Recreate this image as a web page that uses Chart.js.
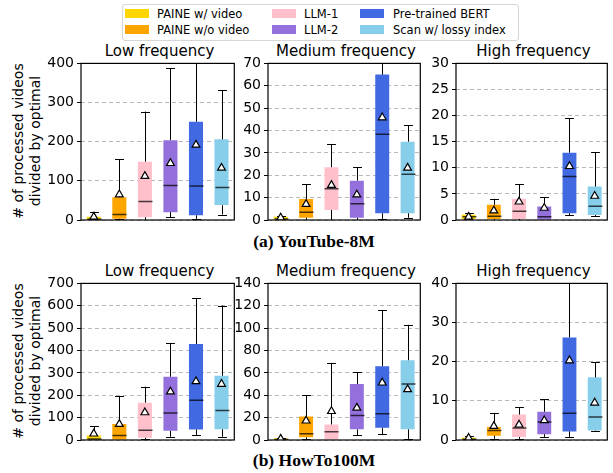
<!DOCTYPE html>
<html>
<head>
<title>Processed videos divided by optimal</title>
<script src="https://cdn.jsdelivr.net/npm/chart.js"></script>
<style>
    body { margin: 0; background: #fff; font-family: "DejaVu Sans", sans-serif; }
    #wrap { position: relative; width: 613px; height: 473px; overflow: hidden; }
    #wrap canvas { position: absolute; }
    #legend { position: absolute; left: 122px; top: 4px; width: 395px; height: 35px;
              border: 1px solid #d6d6d6; border-radius: 3px; }
    .sw { position: absolute; width: 24px; height: 9px; }
    .lt { position: absolute; font-size: 11.5px; line-height: 14px; color: #000; white-space: nowrap; }
    .ylab { position: absolute; width: 220px; text-align: center; font-size: 14px; line-height: 16px;
            transform: rotate(-90deg); white-space: nowrap; }
    .ptitle { position: absolute; width: 200px; text-align: center; font-size: 15px; line-height: 18px;
              white-space: nowrap; }
    .cap { position: absolute; width: 300px; text-align: center; font-family: "Liberation Serif", serif;
           font-weight: bold; font-size: 17.5px; line-height: 20px; }
</style>
</head>
<body>
<div id="wrap">
    <div id="legend"></div>
</div>

<script>
// methods and colours
var methods = ['PAINE w/ video', 'PAINE w/o video', 'LLM-1', 'LLM-2', 'Pre-trained BERT', 'Scan w/ lossy index'];
var colors = ['#FFD700', '#FFA500', '#FFC0CB', '#9370DB', '#4169E1', '#87CEEB'];

// (a) YouTube-8M, low frequency
var ytLowMin  = [0, 2, 0, 7, 3, 14];
var ytLowQ1   = [0, 3, 7, 20, 12, 38];
var ytLowMed  = [2, 14, 47, 88, 87, 83];
var ytLowQ3   = [8, 58, 149, 204, 251, 206];
var ytLowMax  = [21, 155, 277, 387, 520, 332];
var ytLowMean = [8, 65, 112, 145, 192, 133];

// (a) YouTube-8M, medium frequency
var ytMedMin  = [0, 0, 0, 0, 0.5, 1];
var ytMedQ1   = [0, 1, 4.5, 1, 3, 3];
var ytMedMed  = [0.5, 3.5, 14, 7.3, 38.3, 20.4];
var ytMedQ3   = [1.5, 9.4, 23.6, 17.6, 65, 35];
var ytMedMax  = [2, 16, 34, 23.5, 85, 42.4];
var ytMedMean = [1, 7.1, 15.6, 11.3, 45.8, 23.3];

// (a) YouTube-8M, high frequency
var ytHighMin  = [0, 0, 0, 0, 0.9, 0.7];
var ytHighQ1   = [0.2, 0.2, 0.2, 0, 1.3, 0.95];
var ytHighMed  = [0.6, 0.7, 1.7, 0.6, 8.35, 2.65];
var ytHighQ3   = [1, 2.9, 4.05, 2.6, 12.9, 6.4];
var ytHighMax  = [1.3, 4.05, 6.9, 4.4, 19.5, 13];
var ytHighMean = [0.6, 1.8, 3.5, 2.3, 10.3, 4.6];

// (b) HowTo100M, low frequency
var htLowMin  = [0, 0, 3, 15, 22, 15];
var htLowQ1   = [0, 0, 10, 41, 47, 48];
var htLowMed  = [5, 20, 44, 121, 178, 132];
var htLowQ3   = [20, 71, 167, 283, 429, 287];
var htLowMax  = [62, 195, 238, 434, 633, 601];
var htLowMean = [28, 71, 123, 216, 262, 250];

// (b) HowTo100M, medium frequency
var htMedMin  = [0, 0.5, 0, 4.4, 5.3, 1];
var htMedQ1   = [0, 2.4, 0, 9.5, 11, 9.5];
var htMedMed  = [0.5, 5.6, 7.4, 21.9, 23.4, 50];
var htMedQ3   = [1.5, 21, 13.9, 50, 66, 71.3];
var htMedMax  = [2, 40, 69, 60.4, 116.3, 103];
var htMedMean = [1, 17.2, 25.7, 28.7, 51.2, 45.3];

// (b) HowTo100M, high frequency
var htHighMin  = [0, 0.3, 0.3, 0.8, 0.8, 2.2];
var htHighQ1   = [0, 1.1, 0.76, 1.5, 2.2, 2.4];
var htHighMed  = [0.2, 2.4, 3.04, 4.6, 6.85, 5.9];
var htHighQ3   = [0.6, 3.3, 6.5, 7.2, 26.2, 16];
var htHighMax  = [0.9, 6.85, 8.4, 10.4, 55, 19.8];
var htHighMean = [0.5, 3.55, 3.9, 5, 20.3, 9.5];

var titles = ['Low frequency', 'Medium frequency', 'High frequency'];
var yMax = [[400, 70, 30], [700, 140, 40]];
var yStep = [[50, 10, 5], [100, 20, 5]];
var captions = ['(a) YouTube-8M', '(b) HowTo100M'];
var yTitle = ['# of processed videos', 'divided by optimal'];

var stats = [
    [[ytLowMin, ytLowQ1, ytLowMed, ytLowQ3, ytLowMax, ytLowMean],
     [ytMedMin, ytMedQ1, ytMedMed, ytMedQ3, ytMedMax, ytMedMean],
     [ytHighMin, ytHighQ1, ytHighMed, ytHighQ3, ytHighMax, ytHighMean]],
    [[htLowMin, htLowQ1, htLowMed, htLowQ3, htLowMax, htLowMean],
     [htMedMin, htMedQ1, htMedMed, htMedQ3, htMedMax, htMedMean],
     [htHighMin, htHighQ1, htHighMed, htHighQ3, htHighMax, htHighMean]]
];

// layout
var plotLeft = [81, 268, 456];
var plotWidth = [157, 156, 155];
var plotTop = [62, 282];
var plotHeight = 158;
var axisW = 40, topH = 10, bottomH = 12, padR = 2;

var wrap = document.getElementById('wrap');

function addDiv(cls, text, left, top) {
    var d = document.createElement('div');
    d.className = cls;
    d.textContent = text;
    d.style.left = left + 'px';
    d.style.top = top + 'px';
    return d;
}

// legend
var legend = document.getElementById('legend');
var swX = [2, 149, 237], txX = [34, 181, 270], rowY = [9, 25];
methods.forEach(function (m, i) {
    var col = Math.floor(i / 2), row = i % 2;
    var s = addDiv('sw', '', swX[col], rowY[row] - 5);
    s.style.background = colors[i];
    legend.appendChild(s);
    legend.appendChild(addDiv('lt', m, txX[col], rowY[row] - 7));
});

// y titles, panel titles and captions
[0, 1].forEach(function (r) {
    var cy = plotTop[r] + plotHeight / 2;
    [18, 35].forEach(function (cx, k) {
        wrap.appendChild(addDiv('ylab', yTitle[k], cx - 110, cy - 8));
    });
    titles.forEach(function (t, c) {
        wrap.appendChild(addDiv('ptitle', t, plotLeft[c] + plotWidth[c] / 2 - 100, plotTop[r] - 20));
    });
    wrap.appendChild(addDiv('cap', captions[r], 314 - 150, r === 0 ? 231 : 450));
});

var boxExtras = {
    id: 'boxExtras',
    afterDatasetDraw: function (chart, args, opts) {
        if (args.index !== 0) return;
        var x = chart.scales.x, y = chart.scales.y, ctx = chart.ctx, a = chart.chartArea;
        var bars = chart.getDatasetMeta(0).data;
        var cap = x.width / methods.length * 0.35;
        ctx.save();
        ctx.beginPath();
        ctx.rect(a.left, a.top, a.right - a.left, a.bottom - a.top);
        ctx.clip();
        for (var i = 0; i < methods.length; i++) {
            var cx = Math.round(x.getPixelForValue(i)) + 0.5;
            var yMin = y.getPixelForValue(opts.min[i]);
            var yQ1 = y.getPixelForValue(opts.q1[i]);
            var yQ3 = y.getPixelForValue(opts.q3[i]);
            var yMx = y.getPixelForValue(opts.max[i]);
            ctx.strokeStyle = '#000';
            ctx.lineWidth = 1;
            ctx.beginPath();
            ctx.moveTo(cx, yMin); ctx.lineTo(cx, yQ1);
            ctx.moveTo(cx, yQ3); ctx.lineTo(cx, yMx);
            ctx.moveTo(cx - cap / 2, Math.round(yMin) + 0.5); ctx.lineTo(cx + cap / 2, Math.round(yMin) + 0.5);
            ctx.moveTo(cx - cap / 2, Math.round(yMx) + 0.5); ctx.lineTo(cx + cap / 2, Math.round(yMx) + 0.5);
            ctx.stroke();
            var bw = bars[i].width;
            var ym = y.getPixelForValue(opts.med[i]);
            ctx.strokeStyle = 'rgba(0,0,0,0.72)';
            ctx.lineWidth = 1.5;
            ctx.beginPath();
            ctx.moveTo(cx - bw / 2, ym); ctx.lineTo(cx + bw / 2, ym);
            ctx.stroke();
        }
        ctx.restore();
    },
    afterDraw: function (chart) {
        var a = chart.chartArea, ctx = chart.ctx;
        ctx.save();
        ctx.strokeStyle = '#000';
        ctx.lineWidth = 1.2;
        ctx.strokeRect(a.left, a.top, a.right - a.left, a.bottom - a.top);
        ctx.restore();
    }
};

function makePanel(r, c) {
    var s = stats[r][c];
    var cv = document.createElement('canvas');
    cv.width = axisW + plotWidth[c] + padR;
    cv.height = topH + plotHeight + bottomH;
    cv.style.left = (plotLeft[c] - axisW) + 'px';
    cv.style.top = (plotTop[r] - topH) + 'px';
    wrap.appendChild(cv);

    var boxes = s[1].map(function (q1, i) { return [q1, s[3][i]]; });

    new Chart(cv.getContext('2d'), {
        type: 'bar',
        data: {
            labels: methods,
            datasets: [{
                label: 'box',
                data: boxes,
                backgroundColor: colors,
                borderWidth: 0,
                barPercentage: 0.55,
                categoryPercentage: 1,
                order: 2
            }, {
                type: 'line',
                label: 'mean',
                data: s[5],
                showLine: false,
                pointStyle: 'triangle',
                pointRadius: 4.5,
                pointBackgroundColor: '#fff',
                pointBorderColor: '#000',
                pointBorderWidth: 1.2,
                order: 1
            }]
        },
        options: {
            responsive: false,
            animation: false,
            devicePixelRatio: 1,
            layout: { padding: { left: 0, right: padR, top: topH, bottom: 0 } },
            plugins: {
                legend: { display: false },
                tooltip: { enabled: false },
                boxExtras: { min: s[0], q1: s[1], med: s[2], q3: s[3], max: s[4] }
            },
            scales: {
                x: {
                    grid: { display: false },
                    border: { display: false },
                    ticks: { display: false },
                    afterFit: function (sc) { sc.height = bottomH; }
                },
                y: {
                    min: 0,
                    max: yMax[r][c],
                    ticks: {
                        stepSize: yStep[r][c],
                        color: '#000',
                        padding: 3,
                        font: { family: 'DejaVu Sans', size: 14 }
                    },
                    grid: {
                        color: '#b8b8b8',
                        lineWidth: 1,
                        tickLength: 4,
                        tickColor: '#000',
                        tickBorderDash: []
                    },
                    border: { display: false, dash: [4, 3] },
                    afterFit: function (sc) { sc.width = axisW; }
                }
            }
        },
        plugins: [boxExtras]
    });
}

for (var r = 0; r < 2; r++) {
    for (var c = 0; c < 3; c++) {
        makePanel(r, c);
    }
}
</script>
</body>
</html>
